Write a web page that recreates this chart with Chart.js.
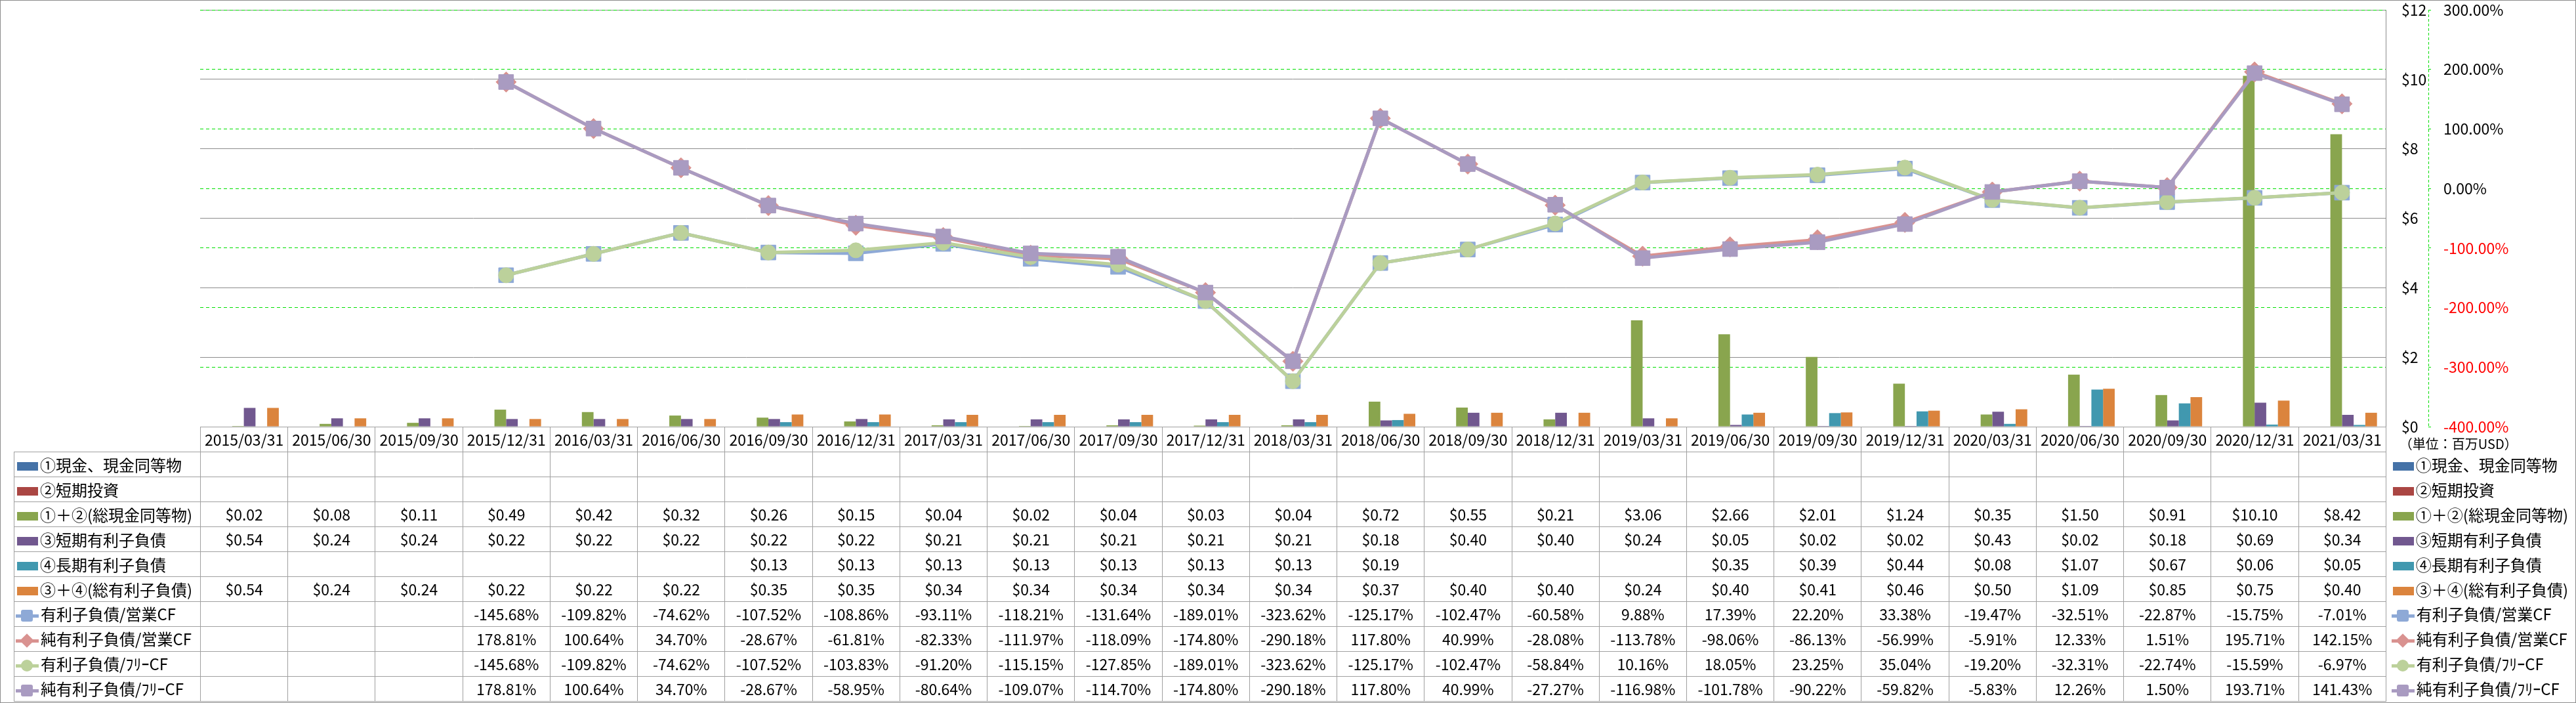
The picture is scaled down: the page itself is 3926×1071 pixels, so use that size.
<!DOCTYPE html>
<html>
<head>
<meta charset="utf-8">
<script src="https://cdn.jsdelivr.net/npm/chart.js@4.4.0/dist/chart.umd.min.js"></script>
<style>
  body { margin: 0; background: #fff; }
  #wrap { position: relative; width: 3926px; height: 1071px; overflow: hidden; font-family: "Noto Sans CJK JP", "Noto Sans", sans-serif; }
  #frame { position: absolute; left: 0; top: 0; width: 3926px; height: 1071px; box-sizing: border-box; border: 1px solid #8c8c8c; pointer-events: none; }
  #c { position: absolute; left: 0; top: 0; }
  #tbl { position: absolute; left: 21px; top: 650px; border-collapse: collapse; table-layout: fixed; color: #000; font-size: 23px; }
  #tbl td { height: 37px; padding: 0; text-align: center; white-space: nowrap; line-height: 1; border: 1px solid #a0a0a0; overflow: hidden; }
  #tbl td.nb { border: none; }
  #tbl td.name { text-align: left; font-size: 24px; }
  #tbl td.side { text-align: left; font-size: 24px; padding-left: 6px; }
  #tbl td.unit { text-align: left; font-size: 20px; padding-left: 20px; padding-top: 12px; height: 25px; }
  .sw { display: inline-block; width: 32px; height: 13px; vertical-align: middle; margin: 0 3px 0 4px; }
  .lk { display: inline-block; position: relative; width: 35px; height: 20px; vertical-align: middle; margin: 0 3px 0 2px; }
  .ln { position: absolute; left: 0; right: 0; top: 8px; height: 5px; }
  .mk { position: absolute; left: 8px; top: 1px; width: 18px; height: 18px; }
  .mk.circle { border-radius: 50%; }
  .mk.square { border-radius: 3px; }
  .mk.diamond { transform: rotate(45deg) scale(0.85); }
</style>
</head>
<body>
<div id="wrap">
  <canvas id="c" width="3926" height="1071"></canvas>
  <table id="tbl"></table>
  <div id="frame"></div>
</div>
<script>
// 決算期
const dates = ['2015/03/31','2015/06/30','2015/09/30','2015/12/31','2016/03/31','2016/06/30','2016/09/30','2016/12/31',
  '2017/03/31','2017/06/30','2017/09/30','2017/12/31','2018/03/31','2018/06/30','2018/09/30','2018/12/31',
  '2019/03/31','2019/06/30','2019/09/30','2019/12/31','2020/03/31','2020/06/30','2020/09/30','2020/12/31','2021/03/31'];

// 百万USD
const cash      = [null,null,null,null,null,null,null,null,null,null,null,null,null,null,null,null,null,null,null,null,null,null,null,null,null];
const shortInv  = [null,null,null,null,null,null,null,null,null,null,null,null,null,null,null,null,null,null,null,null,null,null,null,null,null];
const totalCash = [0.02,0.08,0.11,0.49,0.42,0.32,0.26,0.15,0.04,0.02,0.04,0.03,0.04,0.72,0.55,0.21,3.06,2.66,2.01,1.24,0.35,1.50,0.91,10.10,8.42];
const shortDebt = [0.54,0.24,0.24,0.22,0.22,0.22,0.22,0.22,0.21,0.21,0.21,0.21,0.21,0.18,0.40,0.40,0.24,0.05,0.02,0.02,0.43,0.02,0.18,0.69,0.34];
const longDebt  = [null,null,null,null,null,null,0.13,0.13,0.13,0.13,0.13,0.13,0.13,0.19,null,null,null,0.35,0.39,0.44,0.08,1.07,0.67,0.06,0.05];
const totalDebt = [0.54,0.24,0.24,0.22,0.22,0.22,0.35,0.35,0.34,0.34,0.34,0.34,0.34,0.37,0.40,0.40,0.24,0.40,0.41,0.46,0.50,1.09,0.85,0.75,0.40];

// %
const debtOpCF    = [null,null,null,-145.68,-109.82,-74.62,-107.52,-108.86,-93.11,-118.21,-131.64,-189.01,-323.62,-125.17,-102.47,-60.58,9.88,17.39,22.20,33.38,-19.47,-32.51,-22.87,-15.75,-7.01];
const netDebtOpCF = [null,null,null,178.81,100.64,34.70,-28.67,-61.81,-82.33,-111.97,-118.09,-174.80,-290.18,117.80,40.99,-28.08,-113.78,-98.06,-86.13,-56.99,-5.91,12.33,1.51,195.71,142.15];
const debtFCF     = [null,null,null,-145.68,-109.82,-74.62,-107.52,-103.83,-91.20,-115.15,-127.85,-189.01,-323.62,-125.17,-102.47,-58.84,10.16,18.05,23.25,35.04,-19.20,-32.31,-22.74,-15.59,-6.97];
const netDebtFCF  = [null,null,null,178.81,100.64,34.70,-28.67,-58.95,-80.64,-109.07,-114.70,-174.80,-290.18,117.80,40.99,-27.27,-116.98,-101.78,-90.22,-59.82,-5.83,12.26,1.50,193.71,141.43];

const dollarTicks = [0, 2, 4, 6, 8, 10, 12];
const pctTicks = [-400, -300, -200, -100, 0, 100, 200, 300];

const FONT = '"Noto Sans CJK JP", "Noto Sans", sans-serif';
const GREEN_GRID = '#00e000';

const series = [
  { name: '①現金、現金同等物',   data: cash,      kind: 'bar', color: '#4572A7' },
  { name: '②短期投資',           data: shortInv,  kind: 'bar', color: '#AA4643' },
  { name: '①＋②(総現金同等物)', data: totalCash, kind: 'bar', color: '#89A54E' },
  { name: '③短期有利子負債',     data: shortDebt, kind: 'bar', color: '#71588F' },
  { name: '④長期有利子負債',     data: longDebt,  kind: 'bar', color: '#4198AF' },
  { name: '③＋④(総有利子負債)', data: totalDebt, kind: 'bar', color: '#DB843D' },
  { name: '有利子負債/営業CF',     data: debtOpCF,    kind: 'line', color: '#8EA9D6', marker: 'square',  style: 'rect',    r: 16,   order: 4 },
  { name: '純有利子負債/営業CF',   data: netDebtOpCF, kind: 'line', color: '#D99290', marker: 'diamond', style: 'rectRot', r: 15.5, order: 3 },
  { name: '有利子負債/ﾌﾘｰCF',      data: debtFCF,     kind: 'line', color: '#BCD19B', marker: 'circle',  style: 'circle',  r: 11.5, order: 2 },
  { name: '純有利子負債/ﾌﾘｰCF',    data: netDebtFCF,  kind: 'line', color: '#A99BC1', marker: 'square',  style: 'rect',    r: 16,   order: 1 }
];

const datasets = series.map(function (s) {
  if (s.kind === 'bar') {
    return {
      type: 'bar', label: s.name, data: s.data, yAxisID: 'y', order: 10,
      backgroundColor: s.color, borderWidth: 0,
      categoryPercentage: 0.8, barPercentage: 1.0
    };
  }
  return {
    type: 'line', label: s.name, data: s.data, yAxisID: 'y2', order: s.order,
    borderColor: s.color, backgroundColor: s.color, borderWidth: 5,
    pointStyle: s.style, pointRadius: s.r, pointBackgroundColor: s.color,
    pointBorderColor: s.color, pointBorderWidth: 1, tension: 0, fill: false
  };
});

// data table under the chart
function keyHtml(s) {
  if (s.kind === 'bar') return '<span class="sw" style="background:' + s.color + '"></span>';
  return '<span class="lk"><span class="ln" style="background:' + s.color + '"></span>' +
    '<span class="mk ' + s.marker + '" style="background:' + s.color + '"></span></span>';
}
function fmt(s, v) {
  if (v === null || v === undefined) return '';
  return s.kind === 'bar' ? '$' + v.toFixed(2) : v.toFixed(2) + '%';
}

const tbl = document.getElementById('tbl');
let html = '<colgroup><col id="c0">';
dates.forEach(function () { html += '<col class="cd">'; });
html += '<col id="cr"></colgroup>';
html += '<tr><td class="nb"></td>';
dates.forEach(function (d) { html += '<td>' + d + '</td>'; });
html += '<td class="nb unit">（単位：百万USD）</td></tr>';
series.forEach(function (s) {
  html += '<tr><td class="name">' + keyHtml(s) + s.name + '</td>';
  s.data.forEach(function (v) { html += '<td>' + fmt(s, v) + '</td>'; });
  html += '<td class="nb side">' + keyHtml(s) + s.name + '</td></tr>';
});
tbl.innerHTML = html;

const tableSync = {
  id: 'tableSync',
  afterLayout: function (chart) {
    // line the table columns up with the category scale
    const a = chart.chartArea;
    const colW = (a.right - a.left) / dates.length;
    document.getElementById('c0').style.width = (a.left - 21) + 'px';
    document.querySelectorAll('col.cd').forEach(function (c) { c.style.width = colW + 'px'; });
    document.getElementById('cr').style.width = (3925 - a.right) + 'px';
    tbl.style.width = (3925 - 21) + 'px';
    tbl.style.top = a.bottom + 'px';
  },
  afterDraw: function (chart) {
    // dashed axis line of the % scale
    const s = chart.scales.y2;
    const ctx = chart.ctx;
    ctx.save();
    ctx.strokeStyle = GREEN_GRID;
    ctx.lineWidth = 1;
    ctx.setLineDash([4, 3]);
    ctx.beginPath();
    ctx.moveTo(Math.round(s.left) + 0.5, s.top);
    ctx.lineTo(Math.round(s.left) + 0.5, s.bottom);
    ctx.stroke();
    ctx.restore();
  }
};

function noPad(s) { s.paddingTop = 0; s.paddingBottom = 0; }

new Chart(document.getElementById('c'), {
  type: 'bar',
  data: { labels: dates, datasets: datasets },
  plugins: [tableSync],
  options: {
    responsive: false,
    devicePixelRatio: 1,
    animation: false,
    layout: { autoPadding: false, padding: { left: 305, right: 25, top: 15, bottom: 421 } },
    plugins: { legend: { display: false }, tooltip: { enabled: false } },
    scales: {
      x: { display: false, offset: true, grid: { display: false } },
      y: {
        position: 'right', min: 0, max: 12,
        afterBuildTicks: function (s) { s.ticks = dollarTicks.map(function (v) { return { value: v }; }); },
        ticks: { padding: 24, color: '#000', font: { family: FONT, size: 23 }, callback: function (v) { return '$' + v; } },
        grid: { color: '#8c8c8c', lineWidth: 1, drawTicks: false },
        border: { display: true, color: '#8c8c8c', width: 1 },
        afterFit: function (s) { s.width = 65; noPad(s); }
      },
      y2: {
        position: 'right', min: -400, max: 300,
        afterBuildTicks: function (s) { s.ticks = pctTicks.map(function (v) { return { value: v }; }); },
        ticks: {
          padding: 16, font: { family: FONT, size: 23 },
          color: function (c) { return c.tick && c.tick.value < 0 ? '#ff0000' : '#000'; },
          callback: function (v) { return v.toFixed(2) + '%'; }
        },
        grid: { color: GREEN_GRID, lineWidth: 1, drawTicks: true, tickLength: 7, tickColor: GREEN_GRID, tickBorderDash: [4, 3] },
        border: { display: false, dash: [5, 4] },
        afterFit: function (s) { s.width = 200; noPad(s); }
      }
    }
  }
});
</script>
</body>
</html>
